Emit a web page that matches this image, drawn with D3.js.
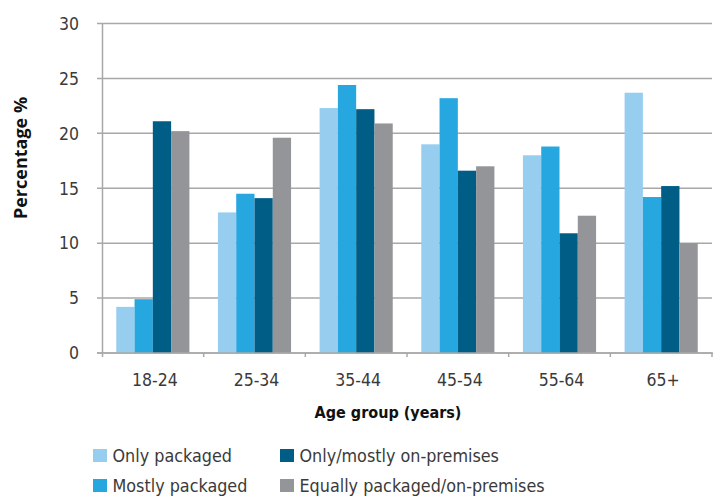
<!DOCTYPE html>
<html>
<head>
<meta charset="utf-8">
<script src="https://cdn.jsdelivr.net/npm/d3@7/dist/d3.min.js"></script>
<style>
  html, body { margin: 0; padding: 0; background: #fff; }
  svg { display: block; }
  .tick-label { font-family: "DejaVu Sans Condensed", "DejaVu Sans", sans-serif; font-stretch: condensed; font-size: 17.5px; fill: #3a3a3a; }
  .legend-label { font-family: "DejaVu Sans Condensed", "DejaVu Sans", sans-serif; font-stretch: condensed; font-size: 17.8px; fill: #3a3a3a; }
  .x-title { font-family: "DejaVu Sans Condensed", "DejaVu Sans", sans-serif; font-stretch: condensed; font-weight: bold; font-size: 16px; fill: #111; }
  .y-title { font-family: "Open Sans", sans-serif; font-weight: bold; font-size: 18px; fill: #111; }
</style>
</head>
<body>
<svg id="chart" width="721" height="497"></svg>
<script>
// Age groups on the x axis
const ageGroups = ["18-24", "25-34", "35-44", "45-54", "55-64", "65+"];

// Purchase-location series (percentage of each age group)
const seriesNames = [
  "Only packaged",
  "Mostly packaged",
  "Only/mostly on-premises",
  "Equally packaged/on-premises"
];
const onlyPackaged     = [4.2, 12.8, 22.3, 19.0, 18.0, 23.7];
const mostlyPackaged   = [4.9, 14.5, 24.4, 23.2, 18.8, 14.2];
const onlyMostlyOnPrem = [21.1, 14.1, 22.2, 16.6, 10.9, 15.2];
const equallyBoth      = [20.2, 19.6, 20.9, 17.0, 12.5, 10.0];

const yTicks = [0, 5, 10, 15, 20, 25, 30];

const seriesValues = [onlyPackaged, mostlyPackaged, onlyMostlyOnPrem, equallyBoth];
const colors = ["#97CEEF", "#27A7E0", "#005D85", "#939598"];

const svg = d3.select("#chart");
const plot = { left: 102, right: 712, top: 23.5, bottom: 353 };
const gridColor = "#A8A8A8";

const x0 = d3.scaleBand().domain(ageGroups).range([plot.left, plot.right]).padding(0);
const x1 = d3.scaleBand().domain(seriesNames).range([0, x0.bandwidth()])
  .paddingInner(0).paddingOuter(0.78);
const y = d3.scaleLinear().domain([0, 30]).range([plot.bottom, plot.top]);

// Horizontal gridlines with small ticks left of the axis
svg.append("g").selectAll("line")
  .data(yTicks)
  .join("line")
  .attr("x1", plot.left - 5)
  .attr("x2", plot.right)
  .attr("y1", d => y(d))
  .attr("y2", d => y(d))
  .attr("stroke", gridColor)
  .attr("stroke-width", 1.5);

// Y tick labels
svg.append("g").selectAll("text")
  .data(yTicks)
  .join("text")
  .attr("class", "tick-label")
  .attr("x", 79)
  .attr("y", d => y(d))
  .attr("dy", "0.36em")
  .attr("text-anchor", "end")
  .text(d => d);

// Bars
const groups = svg.append("g").selectAll("g")
  .data(ageGroups)
  .join("g")
  .attr("transform", d => `translate(${x0(d)},0)`);

groups.selectAll("rect")
  .data((d, i) => seriesNames.map((s, j) => ({ series: s, value: seriesValues[j][i], color: colors[j] })))
  .join("rect")
  .attr("x", d => x1(d.series))
  .attr("width", x1.bandwidth())
  .attr("y", d => y(d.value))
  .attr("height", d => y(0) - y(d.value))
  .attr("fill", d => d.color);

// Y axis line
svg.append("line")
  .attr("x1", plot.left + 0.5).attr("x2", plot.left + 0.5)
  .attr("y1", plot.top).attr("y2", plot.bottom + 4)
  .attr("stroke", gridColor).attr("stroke-width", 1.5);

// X baseline and category boundary ticks
svg.append("line")
  .attr("x1", plot.left - 5).attr("x2", plot.right + 1)
  .attr("y1", y(0)).attr("y2", y(0))
  .attr("stroke", gridColor).attr("stroke-width", 1.5);

const boundaries = ageGroups.map(d => x0(d) + x0.bandwidth());
svg.append("g").selectAll("line")
  .data(boundaries)
  .join("line")
  .attr("x1", d => d).attr("x2", d => d)
  .attr("y1", y(0)).attr("y2", y(0) + 4)
  .attr("stroke", gridColor).attr("stroke-width", 1.5);

// X tick labels
svg.append("g").selectAll("text")
  .data(ageGroups)
  .join("text")
  .attr("class", "tick-label")
  .attr("x", d => x0(d) + x0.bandwidth() / 2 + 2)
  .attr("y", 386)
  .attr("text-anchor", "middle")
  .text(d => d);

// Axis titles
svg.append("text")
  .attr("class", "x-title")
  .attr("x", 388)
  .attr("y", 418)
  .attr("text-anchor", "middle")
  .text("Age group (years)");

svg.append("text")
  .attr("class", "y-title")
  .attr("transform", "translate(27,158) rotate(-90)")
  .attr("text-anchor", "middle")
  .text("Percentage %");

// Legend: two columns, two rows
const legendPos = [
  { x: 93, y: 449 },
  { x: 93, y: 479 },
  { x: 280, y: 449 },
  { x: 280, y: 479 }
];
const legend = svg.append("g").selectAll("g")
  .data(seriesNames)
  .join("g")
  .attr("transform", (d, i) => `translate(${legendPos[i].x},${legendPos[i].y})`);

legend.append("rect")
  .attr("width", 14)
  .attr("height", 13)
  .attr("fill", (d, i) => colors[i]);

legend.append("text")
  .attr("class", "legend-label")
  .attr("x", 19.5)
  .attr("y", 12.7)
  .text(d => d);
</script>
</body>
</html>
